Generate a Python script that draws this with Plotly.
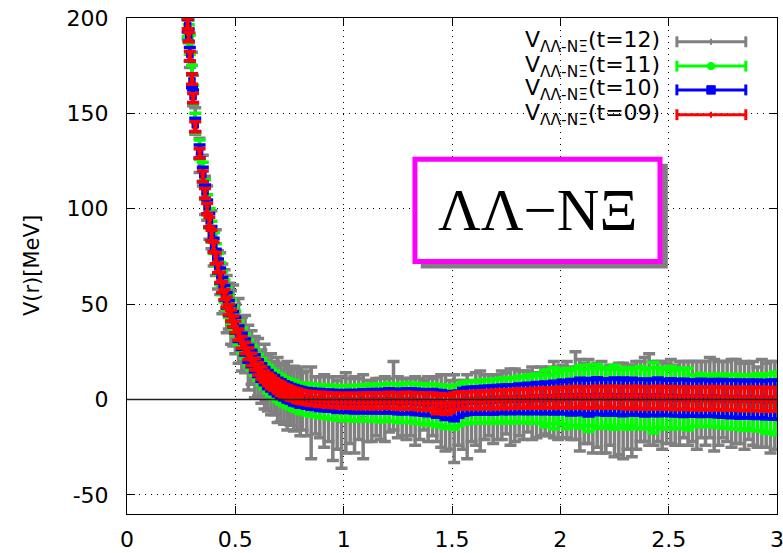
import plotly.graph_objects as go

# ---------------- data ----------------
r = [0.28, 0.285, 0.29, 0.30, 0.305, 0.315, 0.335, 0.35, 0.36, 0.37,
     0.38, 0.39, 0.40, 0.41, 0.42, 0.43, 0.44, 0.45, 0.46, 0.47,
     0.48, 0.49, 0.50, 0.515, 0.53, 0.545, 0.56, 0.575, 0.59, 0.605,
     0.62, 0.635, 0.65, 0.665, 0.68, 0.695, 0.71, 0.725, 0.74, 0.755,
     0.77, 0.785, 0.80,
     0.81, 0.83, 0.85, 0.87, 0.89, 0.91, 0.93, 0.95, 0.97, 0.99,
     1.01, 1.03, 1.05, 1.07, 1.09, 1.11, 1.13, 1.15, 1.17, 1.19,
     1.21, 1.23, 1.25, 1.27, 1.29, 1.31, 1.33, 1.35, 1.37, 1.39,
     1.41, 1.43, 1.45, 1.47, 1.49, 1.51, 1.53, 1.55, 1.57, 1.59,
     1.61, 1.63, 1.65, 1.67, 1.69, 1.71, 1.73, 1.75, 1.77, 1.79,
     1.81, 1.83, 1.85, 1.87, 1.89, 1.91, 1.93, 1.95, 1.97, 1.99,
     2.01, 2.03, 2.05, 2.07, 2.09, 2.11, 2.13, 2.15, 2.17, 2.19,
     2.21, 2.23, 2.25, 2.27, 2.29, 2.31, 2.33, 2.35, 2.37, 2.39,
     2.41, 2.43, 2.45, 2.47, 2.49, 2.51, 2.53, 2.55, 2.57, 2.59,
     2.61, 2.63, 2.65, 2.67, 2.69, 2.71, 2.73, 2.75, 2.77, 2.79,
     2.81, 2.83, 2.85, 2.87, 2.89, 2.91, 2.93, 2.95, 2.97, 2.99]

# t=09 (red)
v09 = [197, 190, 180, 168, 158, 143, 129, 117, 108, 100,
       93, 86, 80, 74, 69, 64, 59, 55, 51, 47,
       44, 41, 38, 34, 30, 27, 24, 21, 18.5, 16,
       14, 12, 10.5, 9, 7.8, 6.6, 5.6, 4.7, 3.9, 3.2,
       2.6, 2.0, 1.5,
       1.2, 0.9, 0.6, 0.3, 0.1, -0.1, -0.3, -0.4, -0.5, -0.6,
       -0.7, -0.6, -0.7, -0.8, -0.6, -0.7, -0.5, -0.6, -0.7, -0.5,
       -0.4, -0.6, -0.7, -0.8, -0.6, -0.5, -0.8, -0.9, -1.1, -1.2,
       -1.0, -2.6, -1.5, -2.8, -2.2, -1.0, -0.6, -0.5, -0.4, -0.3,
       -0.2, -0.3, -0.1, 0.0, -0.1, 0.2, 0.1, 0.3, 0.2, 0.4,
       0.5, 0.4, 0.6, 0.5, 0.7, 0.6, 0.8, 0.7, 0.9, 1.0,
       1.1, 0.9, 1.0, 1.2, 1.3, 1.1, 1.0, 1.2, 1.4, 1.2,
       1.1, 1.3, 1.2, 1.0, 1.1, 0.9, 1.2, 1.0, 1.1, 0.9,
       0.8, 1.0, 1.1, 0.9, 0.8, 1.0, 0.7, 0.9, 0.8, 0.6,
       0.7, 0.5, 0.8, 0.6, 0.5, 0.7, 0.4, 0.6, 0.5, 0.3,
       0.4, 0.3, 0.2, 0.4, 0.1, 0.3, 0.2, 0.0, 0.2, 0.1]
e09 = [2.6, 2.4, 2.5, 2.7, 2.4, 2.6, 2.5, 2.8, 2.6, 2.7,
       2.5, 2.7, 2.6, 2.8, 2.6, 2.7, 2.9, 2.6, 2.8, 2.7,
       2.9, 2.8, 3.0, 2.9, 3.1, 2.9, 3.0, 3.2, 3.0, 3.1,
       3.2, 3.0, 3.1, 3.3, 3.1, 3.2, 3.4, 3.2, 3.3, 3.4,
       3.3, 3.5, 3.4,
       3.4, 3.5, 3.6, 3.5, 3.7, 3.6, 3.7, 3.8, 3.7, 3.9,
       3.8, 3.9, 4.0, 3.9, 4.0, 4.1, 3.9, 4.2, 4.0, 4.1,
       4.2, 4.1, 4.3, 4.2, 4.4, 4.2, 4.3, 4.4, 4.3, 4.5,
       4.4, 4.8, 4.5, 4.9, 4.6, 4.4, 4.5, 4.6, 4.4, 4.5,
       4.6, 4.5, 4.7, 4.6, 4.8, 4.7, 4.9, 4.8, 4.9, 5.0,
       4.9, 5.0, 5.1, 5.0, 5.2, 5.1, 5.3, 5.2, 5.3, 5.4,
       5.4, 5.3, 5.5, 5.6, 5.4, 5.5, 5.7, 5.5, 5.6, 5.5,
       5.7, 5.6, 5.8, 5.6, 5.7, 5.8, 5.6, 5.9, 5.7, 5.8,
       5.8, 5.7, 5.9, 5.8, 5.7, 5.9, 6.0, 5.8, 5.9, 5.8,
       5.9, 6.0, 5.8, 6.0, 5.9, 6.1, 5.9, 6.0, 6.1, 5.9,
       6.0, 6.1, 6.0, 6.2, 6.0, 6.1, 6.2, 6.0, 6.2, 6.1]

# t=10 (blue)
v10 = [196, 191, 181, 167, 159, 144, 130, 118, 109, 101,
       94, 87, 81, 75, 70, 65, 60, 56, 52, 48,
       45, 42, 39, 34.5, 30.5, 27.5, 24, 21.5, 19, 16.5,
       14.2, 12.3, 10.5, 9.1, 7.8, 6.5, 5.5, 4.5, 3.7, 3.0,
       2.3, 1.8, 1.2,
       0.9, 0.6, 0.2, 0.0, -0.3, -0.5, -0.6, -0.7, -0.9, -1.0,
       -1.0, -0.9, -1.1, -1.0, -0.9, -1.1, -0.8, -0.9, -1.0, -0.8,
       -0.7, -0.9, -1.0, -1.2, -0.9, -0.8, -1.2, -1.3, -1.6, -1.7,
       -1.5, -2.3, -2.0, -3.2, -2.8, -3.6, -2.4, -1.2, -0.8, -0.6,
       -0.5, -0.6, -0.3, -0.2, -0.3, 0.1, 0.0, 0.2, 0.1, 0.3,
       0.4, 0.3, 0.6, 0.5, 0.8, 0.6, 0.9, 0.8, 1.0, 1.1,
       1.3, 1.0, 1.2, 1.5, 1.6, 1.3, 1.2, 1.5, 1.7, 1.4,
       1.3, 1.6, 1.5, 1.2, 1.4, 1.1, 1.5, 1.2, 1.3, 1.1,
       1.0, 1.2, 1.4, 1.1, 0.9, 1.2, 0.8, 1.0, 0.9, 0.7,
       0.8, 0.6, 0.9, 0.7, 0.5, 0.8, 0.4, 0.6, 0.5, 0.3,
       0.4, 0.2, 0.1, 0.3, 0.0, 0.2, 0.1, -0.1, 0.1, 0.0]
e10 = [3.4, 3.2, 3.5, 3.6, 3.3, 3.5, 3.4, 3.7, 3.5, 3.6,
       3.5, 3.7, 3.6, 3.8, 3.7, 3.9, 4.0, 3.8, 4.0, 3.9,
       4.1, 4.0, 4.2, 4.1, 4.3, 4.2, 4.4, 4.3, 4.5, 4.4,
       4.6, 4.5, 4.7, 4.6, 4.8, 4.7, 4.9, 4.8, 5.0, 4.9,
       5.1, 5.0, 5.2,
       5.0, 5.2, 5.3, 5.2, 5.5, 5.4, 5.6, 5.5, 5.7, 5.6,
       5.8, 5.7, 5.9, 5.8, 6.0, 5.9, 6.1, 6.0, 6.2, 6.1,
       6.3, 6.2, 6.4, 6.3, 6.5, 6.4, 6.6, 6.5, 6.7, 6.8,
       6.7, 7.0, 6.8, 7.3, 7.0, 7.5, 6.9, 7.0, 7.1, 7.0,
       7.2, 7.1, 7.3, 7.2, 7.4, 7.3, 7.5, 7.4, 7.6, 7.5,
       7.7, 7.6, 7.9, 7.8, 8.1, 7.9, 8.3, 8.0, 8.6, 8.2,
       8.8, 8.5, 9.3, 8.7, 9.6, 8.9, 9.8, 9.0, 9.7, 9.1,
       9.5, 9.2, 9.8, 9.3, 9.9, 9.1, 9.6, 9.4, 9.2, 9.7,
       9.3, 9.6, 9.9, 9.4, 9.2, 9.7, 9.3, 9.5, 9.8, 9.4,
       9.6, 9.3, 9.8, 9.5, 9.3, 9.7, 9.4, 9.9, 9.6, 9.8,
       9.7, 10.0, 9.6, 9.9, 9.8, 10.1, 9.7, 10.0, 10.2, 10.3]

# t=11 (green)
v11 = [195, 192, 186, 170, 160, 145, 131, 119, 110, 102,
       95, 88, 82, 76, 71, 66, 61, 57, 53, 49,
       46, 43, 40, 35, 31, 28, 24.5, 22, 19.5, 17,
       14.5, 12.5, 10.6, 9.0, 7.6, 6.3, 5.2, 4.2, 3.4, 2.7,
       2.0, 1.4, 0.8,
       0.6, 0.2, -0.2, -0.5, -0.9, -1.1, -1.3, -1.5, -1.7, -1.8,
       -1.9, -1.8, -2.0, -1.7, -1.8, -2.0, -1.6, -1.7, -1.9, -1.5,
       -1.4, -1.6, -1.9, -2.1, -1.7, -1.5, -2.0, -2.3, -2.6, -2.5,
       -2.4, -3.2, -2.9, -4.0, -3.4, -4.2, -3.0, -2.0, -1.6, -1.3,
       -1.2, -1.4, -1.0, -0.8, -0.9, -0.5, -0.6, -0.3, -0.4, -0.1,
       0.0, -0.2, 0.2, 0.1, 0.4, 0.2, 0.5, 0.3, 0.6, 0.8,
       1.0, 0.5, 0.9, 1.3, 1.4, 1.0, 0.8, 1.3, 1.6, 1.1,
       0.9, 1.3, 1.2, 0.7, 1.0, 0.6, 1.1, 0.8, 0.9, 0.6,
       0.5, 0.9, 1.1, 0.7, 0.4, 0.9, 0.3, 0.6, 0.5, 0.2,
       -0.5, -0.8, -0.3, -0.7, -1.0, -0.5, -1.2, -0.8, -1.0, -1.3,
       -1.2, -1.5, -1.6, -1.2, -1.8, -1.5, -1.9, -2.2, -1.8, -2.0]
e11 = [4.8, 4.5, 5.0, 5.2, 4.8, 5.1, 5.0, 5.4, 5.2, 5.3,
       5.2, 5.5, 5.4, 5.6, 5.5, 5.8, 6.0, 5.7, 6.0, 5.9,
       6.2, 6.0, 6.3, 6.2, 6.5, 6.4, 6.7, 6.5, 6.8, 6.7,
       7.0, 6.9, 7.2, 7.0, 7.3, 7.2, 7.5, 7.4, 7.6, 7.5,
       7.8, 7.7, 8.0,
       8.0, 8.3, 8.5, 8.4, 8.7, 8.6, 8.9, 8.8, 9.1, 9.0,
       9.2, 9.1, 9.4, 9.2, 9.6, 9.4, 9.8, 9.5, 9.9, 9.7,
       10.0, 9.8, 10.2, 10.0, 10.4, 10.1, 10.5, 10.3, 10.6, 10.8,
       10.6, 11.0, 10.7, 11.2, 10.9, 11.4, 10.8, 11.0, 11.1, 10.9,
       11.2, 11.0, 11.4, 11.2, 11.6, 11.3, 11.8, 11.5, 12.0, 11.7,
       12.2, 11.9, 12.6, 12.3, 13.0, 12.5, 14.8, 12.8, 16.0, 13.2,
       14.2, 15.8, 14.5, 15.0, 16.5, 14.8, 17.5, 15.0, 16.8, 15.2,
       16.0, 15.0, 16.8, 15.4, 14.8, 16.2, 15.0, 15.8, 16.4, 15.2,
       16.0, 18.5, 15.6, 16.2, 15.3, 16.4, 15.2, 15.9, 15.5, 16.2,
       13.6, 13.2, 14.0, 13.4, 13.1, 13.9, 13.3, 14.2, 13.6, 14.1,
       14.4, 13.8, 14.6, 14.0, 14.3, 15.0, 14.4, 15.6, 15.2, 16.5]

# t=12 (gray)
v12 = [194, 193, 183, 176, 162, 146, 128, 120, 107, 103,
       92, 89, 79, 77, 68, 66, 58, 57, 50, 49,
       43, 44, 37, 36, 29, 29, 22, 22, 17, 17,
       12, 12, 9, 8, 6, 5, 3.5, 3, 2, 1.5,
       0.5, 0, -1,
       -1, -2, -7, -3, -4, -6, -5, -10, -8, -12,
       -7, -6, -8, -5, -9, -6, -6, -4, -5, -5,
       -3, 2, -4, -4, -5, -4, -6, -5, -3, -5,
       -4, -5, -6, -7, -8, -10, -7, -8, -9, -6,
       -5, -6, -4, -3, -5, -4, -3, -2, -4, -3,
       -2, -3, -1, -2, -3, -1, -2, -1, 0, -2,
       -1, 0, -2, 2, -3, -2, -1, -5, -3, -4,
       -6, -3, -7, -5, -6, -4, -6, -3, -1, 0,
       0, -2, -1, -3, -2, -1, -3, -2, 0, -2,
       -1, -3, 0, -2, 1, -3, -2, 0, -1, -2,
       -1, -2, -3, -1, -2, -4, -2, -3, -4, -3]
e12 = [5, 6, 9, 6, 8, 7, 9, 8, 10, 9,
       8, 10, 9, 12, 10, 11, 13, 11, 15, 12,
       14, 16, 13, 17, 14, 15, 17, 14, 16, 15,
       14, 17, 15, 16, 14, 17, 15, 16, 18, 15,
       17, 16, 18,
       15, 17, 24, 15, 16, 19, 17, 22, 18, 24,
       21, 17, 20, 16, 22, 16, 16, 15, 16, 17,
       14, 18, 16, 15, 16, 15, 18, 16, 13, 17,
       15, 17, 19, 20, 18, 23, 17, 18, 22, 16,
       19, 21, 17, 16, 18, 17, 18, 16, 20, 19,
       17, 18, 16, 19, 17, 18, 16, 18, 20, 19,
       19, 20, 19, 23, 24, 21, 22, 23, 22, 24,
       22, 21, 23, 24, 25, 22, 24, 23, 21, 22,
       24, 22, 21, 23, 21, 22, 21, 22, 20, 22,
       21, 23, 20, 22, 21, 24, 22, 20, 21, 23,
       22, 21, 23, 20, 22, 21, 23, 22, 24, 23]

series_names = ["V<sub>ΛΛ-NΞ</sub>(t=12)", "V<sub>ΛΛ-NΞ</sub>(t=11)",
                "V<sub>ΛΛ-NΞ</sub>(t=10)", "V<sub>ΛΛ-NΞ</sub>(t=09)"]
series_v = [v12, v11, v10, v09]
series_e = [e12, e11, e10, e09]
colors = ["#808080", "#00ff00", "#0000ff", "#ff0000"]
symbols = ["cross-thin", "circle", "square", "x-thin"]
msizes = [6, 6, 6, 5]

x_ticks = [0, 0.5, 1, 1.5, 2, 2.5, 3]
x_ticktext = ["0", "0.5", "1", "1.5", "2", "2.5", "3"]
y_ticks = [-50, 0, 50, 100, 150, 200]
y_ticktext = ["-50", "0", "50", "100", "150", "200"]

# ---------------- figure ----------------
fig = go.Figure()
for name, v, e, c, s, ms in zip(series_names, series_v, series_e, colors, symbols, msizes):
    fig.add_trace(go.Scatter(
        x=r, y=v, mode="markers", name=name, showlegend=False,
        marker=dict(color=c, symbol=s, size=ms, line=dict(color=c, width=1.5)),
        error_y=dict(type="data", array=e, visible=True, color=c, thickness=3.5, width=6),
    ))

FONT = "DejaVu Sans"
fig.update_layout(
    width=783, height=553,
    margin=dict(l=127, r=6, t=18, b=39, autoexpand=False),
    paper_bgcolor="white", plot_bgcolor="white",
    font=dict(family=FONT, size=22, color="black"),
    showlegend=False,
)
axis_common = dict(
    showline=True, linecolor="black", linewidth=1, mirror="allticks",
    ticks="inside", ticklen=8, tickcolor="black", tickwidth=1,
    showgrid=True, gridcolor="black", gridwidth=1, griddash="1px,5px",
    zeroline=False, automargin=False, ticklabeloverflow="allow",
    tickfont=dict(family=FONT, size=22, color="black"),
)
fig.update_xaxes(range=[0, 3], tickvals=x_ticks, ticktext=x_ticktext,
                 ticklabelstandoff=6, **axis_common)
fig.update_yaxes(range=[-60, 200], tickvals=y_ticks, ticktext=y_ticktext,
                 ticklabelstandoff=13, **axis_common)

# zero line drawn over the data
fig.add_shape(type="line", xref="x", yref="y", x0=0, x1=3, y0=0, y1=0,
              line=dict(color="#202020", width=1.5), layer="above")

# y axis title
fig.add_annotation(text="V(r)[MeV]", xref="paper", yref="paper", x=-0.146, y=0.5,
                   textangle=-90, showarrow=False, xanchor="center", yanchor="middle",
                   font=dict(family=FONT, size=21, color="black"))

# label box with shadow
fig.add_shape(type="rect", xref="paper", yref="paper", x0=0.452, x1=0.832, y0=0.495, y1=0.706,
              fillcolor="#808080", line=dict(width=0), layer="above")
fig.add_shape(type="rect", xref="paper", yref="paper", x0=0.443, x1=0.820, y0=0.509, y1=0.715,
              fillcolor="white", line=dict(color="#ff00ff", width=5), layer="above")
fig.add_annotation(text="ΛΛ−ΝΞ", xref="paper", yref="paper", x=0.632, y=0.612,
                   showarrow=False, xanchor="center", yanchor="middle",
                   font=dict(family="Liberation Serif", size=59, color="black"))

# manual legend (text left, error-bar glyph right)
leg_y = [0.952, 0.903, 0.855, 0.805]
gx0, gx1, gxm = 0.846, 0.952, 0.8985
cap = 0.011
for name, c, s, yy in zip(series_names, colors, symbols, leg_y):
    fig.add_annotation(text=name, xref="paper", yref="paper", x=0.823, y=yy,
                       showarrow=False, xanchor="right", yanchor="middle",
                       font=dict(family=FONT, size=22, color="black"))
    fig.add_shape(type="line", xref="paper", yref="paper", x0=gx0, x1=gx1, y0=yy, y1=yy,
                  line=dict(color=c, width=3), layer="above")
    for gx in (gx0, gx1):
        fig.add_shape(type="line", xref="paper", yref="paper", x0=gx, x1=gx,
                      y0=yy - cap, y1=yy + cap, line=dict(color=c, width=3), layer="above")
    if s == "circle":
        fig.add_shape(type="circle", xref="paper", yref="paper",
                      x0=gxm - 0.0055, x1=gxm + 0.0055, y0=yy - 0.0075, y1=yy + 0.0075,
                      fillcolor=c, line=dict(color=c, width=1), layer="above")
    elif s == "square":
        fig.add_shape(type="rect", xref="paper", yref="paper",
                      x0=gxm - 0.0065, x1=gxm + 0.0065, y0=yy - 0.0085, y1=yy + 0.0085,
                      fillcolor=c, line=dict(color=c, width=1), layer="above")
    else:
        fig.add_shape(type="line", xref="paper", yref="paper", x0=gxm, x1=gxm,
                      y0=yy - 0.006, y1=yy + 0.006, line=dict(color=c, width=2), layer="above")

fig.write_html("out.html")
